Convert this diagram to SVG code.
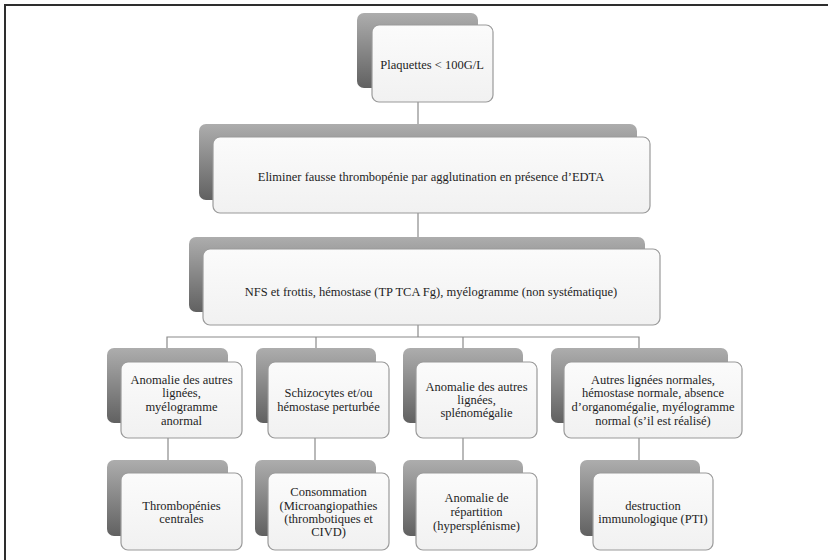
<svg xmlns="http://www.w3.org/2000/svg" width="828" height="560" viewBox="0 0 828 560">
  <defs>
    <linearGradient id="shade" x1="0" y1="0" x2="0" y2="1">
      <stop offset="0" stop-color="#adadad"/>
      <stop offset="1" stop-color="#616161"/>
    </linearGradient>
    <linearGradient id="face" x1="0" y1="0" x2="0" y2="1">
      <stop offset="0" stop-color="#fbfbfb"/>
      <stop offset="1" stop-color="#f1f1f1"/>
    </linearGradient>
  </defs>
  <style>
    .back { fill: url(#shade); }
    .front { fill: url(#face); stroke: #9a9a9a; stroke-width: 1.2; }
    .lbl { font-family: 'Liberation Serif', 'DejaVu Serif', serif; font-size: 12.5px; fill: #1e1e1e; text-anchor: middle; }
    .wire { stroke: #8a8a8a; stroke-width: 1.2; fill: none; }
  </style>

  <rect width="828" height="560" fill="#ffffff"/>
  <!-- frame -->
  <path d="M5,560 V5 H828" fill="none" stroke="#2e2e2e" stroke-width="2"/>

  <!-- connectors -->
  <g id="connectors">
    <path class="wire" d="M418,102 V124"/>
    <path class="wire" d="M418,213 V237"/>
    <path class="wire" d="M418,325 V337"/>
    <path class="wire" d="M167,348 V337 H639 V348"/>
    <path class="wire" d="M316,337 V348"/>
    <path class="wire" d="M463,337 V348"/>
    <path class="wire" d="M168,438 V460"/>
    <path class="wire" d="M315,438 V460"/>
    <path class="wire" d="M463,438 V460"/>
    <path class="wire" d="M639,438 V460"/>
  </g>

  <g id="n-plaquettes">
    <rect class="back" x="357" y="13" width="121" height="75" rx="7"/>
    <rect class="front" x="372" y="25" width="121" height="77" rx="7"/>
    <text class="lbl" x="432" y="69">Plaquettes &lt; 100G/L</text>
  </g>

  <g id="n-eliminer">
    <rect class="back" x="199" y="124" width="438" height="76" rx="7"/>
    <rect class="front" x="213" y="137" width="437" height="76" rx="7"/>
    <text class="lbl" x="431" y="181">Eliminer fausse thrombopénie par agglutination en présence d’EDTA</text>
  </g>

  <g id="n-nfs">
    <rect class="back" x="189" y="237" width="456" height="75" rx="7"/>
    <rect class="front" x="203" y="249" width="457" height="76" rx="7"/>
    <text class="lbl" x="431" y="296">NFS et frottis, hémostase (TP TCA Fg), myélogramme (non systématique)</text>
  </g>

  <g id="n-centrale-sign">
    <rect class="back" x="107" y="348" width="121" height="75" rx="7"/>
    <rect class="front" x="121" y="362" width="121" height="76" rx="7"/>
    <text class="lbl" x="181.5" y="384">Anomalie des autres</text>
    <text class="lbl" x="181.5" y="397">lignées,</text>
    <text class="lbl" x="181.5" y="411">myélogramme</text>
    <text class="lbl" x="181.5" y="425">anormal</text>
  </g>

  <g id="n-schizo">
    <rect class="back" x="256" y="348" width="120" height="75" rx="7"/>
    <rect class="front" x="268" y="362" width="121" height="76" rx="7"/>
    <text class="lbl" x="328.5" y="397">Schizocytes et/ou</text>
    <text class="lbl" x="328.5" y="411">hémostase perturbée</text>
  </g>

  <g id="n-spleno">
    <rect class="back" x="403" y="348" width="120" height="75" rx="7"/>
    <rect class="front" x="416" y="362" width="121" height="76" rx="7"/>
    <text class="lbl" x="476.5" y="391">Anomalie des autres</text>
    <text class="lbl" x="476.5" y="404">lignées,</text>
    <text class="lbl" x="476.5" y="417">splénomégalie</text>
  </g>

  <g id="n-normal">
    <rect class="back" x="551" y="348" width="177" height="75" rx="7"/>
    <rect class="front" x="564" y="362" width="178" height="76" rx="7"/>
    <text class="lbl" x="653" y="384">Autres lignées normales,</text>
    <text class="lbl" x="653" y="397">hémostase normale, absence</text>
    <text class="lbl" x="653" y="411">d’organomégalie, myélogramme</text>
    <text class="lbl" x="653" y="425">normal (s’il est réalisé)</text>
  </g>

  <g id="n-centrales">
    <rect class="back" x="107" y="460" width="121" height="76" rx="7"/>
    <rect class="front" x="121" y="473" width="121" height="77" rx="7"/>
    <text class="lbl" x="181.5" y="510">Thrombopénies</text>
    <text class="lbl" x="181.5" y="523">centrales</text>
  </g>

  <g id="n-consommation">
    <rect class="back" x="255" y="460" width="121" height="76" rx="7"/>
    <rect class="front" x="268" y="473" width="121" height="77" rx="7"/>
    <text class="lbl" x="328.5" y="496">Consommation</text>
    <text class="lbl" x="328.5" y="510">(Microangiopathies</text>
    <text class="lbl" x="328.5" y="523">(thrombotiques et</text>
    <text class="lbl" x="328.5" y="536">CIVD)</text>
  </g>

  <g id="n-repartition">
    <rect class="back" x="403" y="460" width="120" height="76" rx="7"/>
    <rect class="front" x="416" y="473" width="121" height="77" rx="7"/>
    <text class="lbl" x="476.5" y="502">Anomalie de</text>
    <text class="lbl" x="476.5" y="516">répartition</text>
    <text class="lbl" x="476.5" y="530">(hypersplénisme)</text>
  </g>

  <g id="n-pti">
    <rect class="back" x="580" y="460" width="120" height="76" rx="7"/>
    <rect class="front" x="593" y="473" width="120" height="77" rx="7"/>
    <text class="lbl" x="653" y="510">destruction</text>
    <text class="lbl" x="653" y="523">immunologique (PTI)</text>
  </g>
</svg>
